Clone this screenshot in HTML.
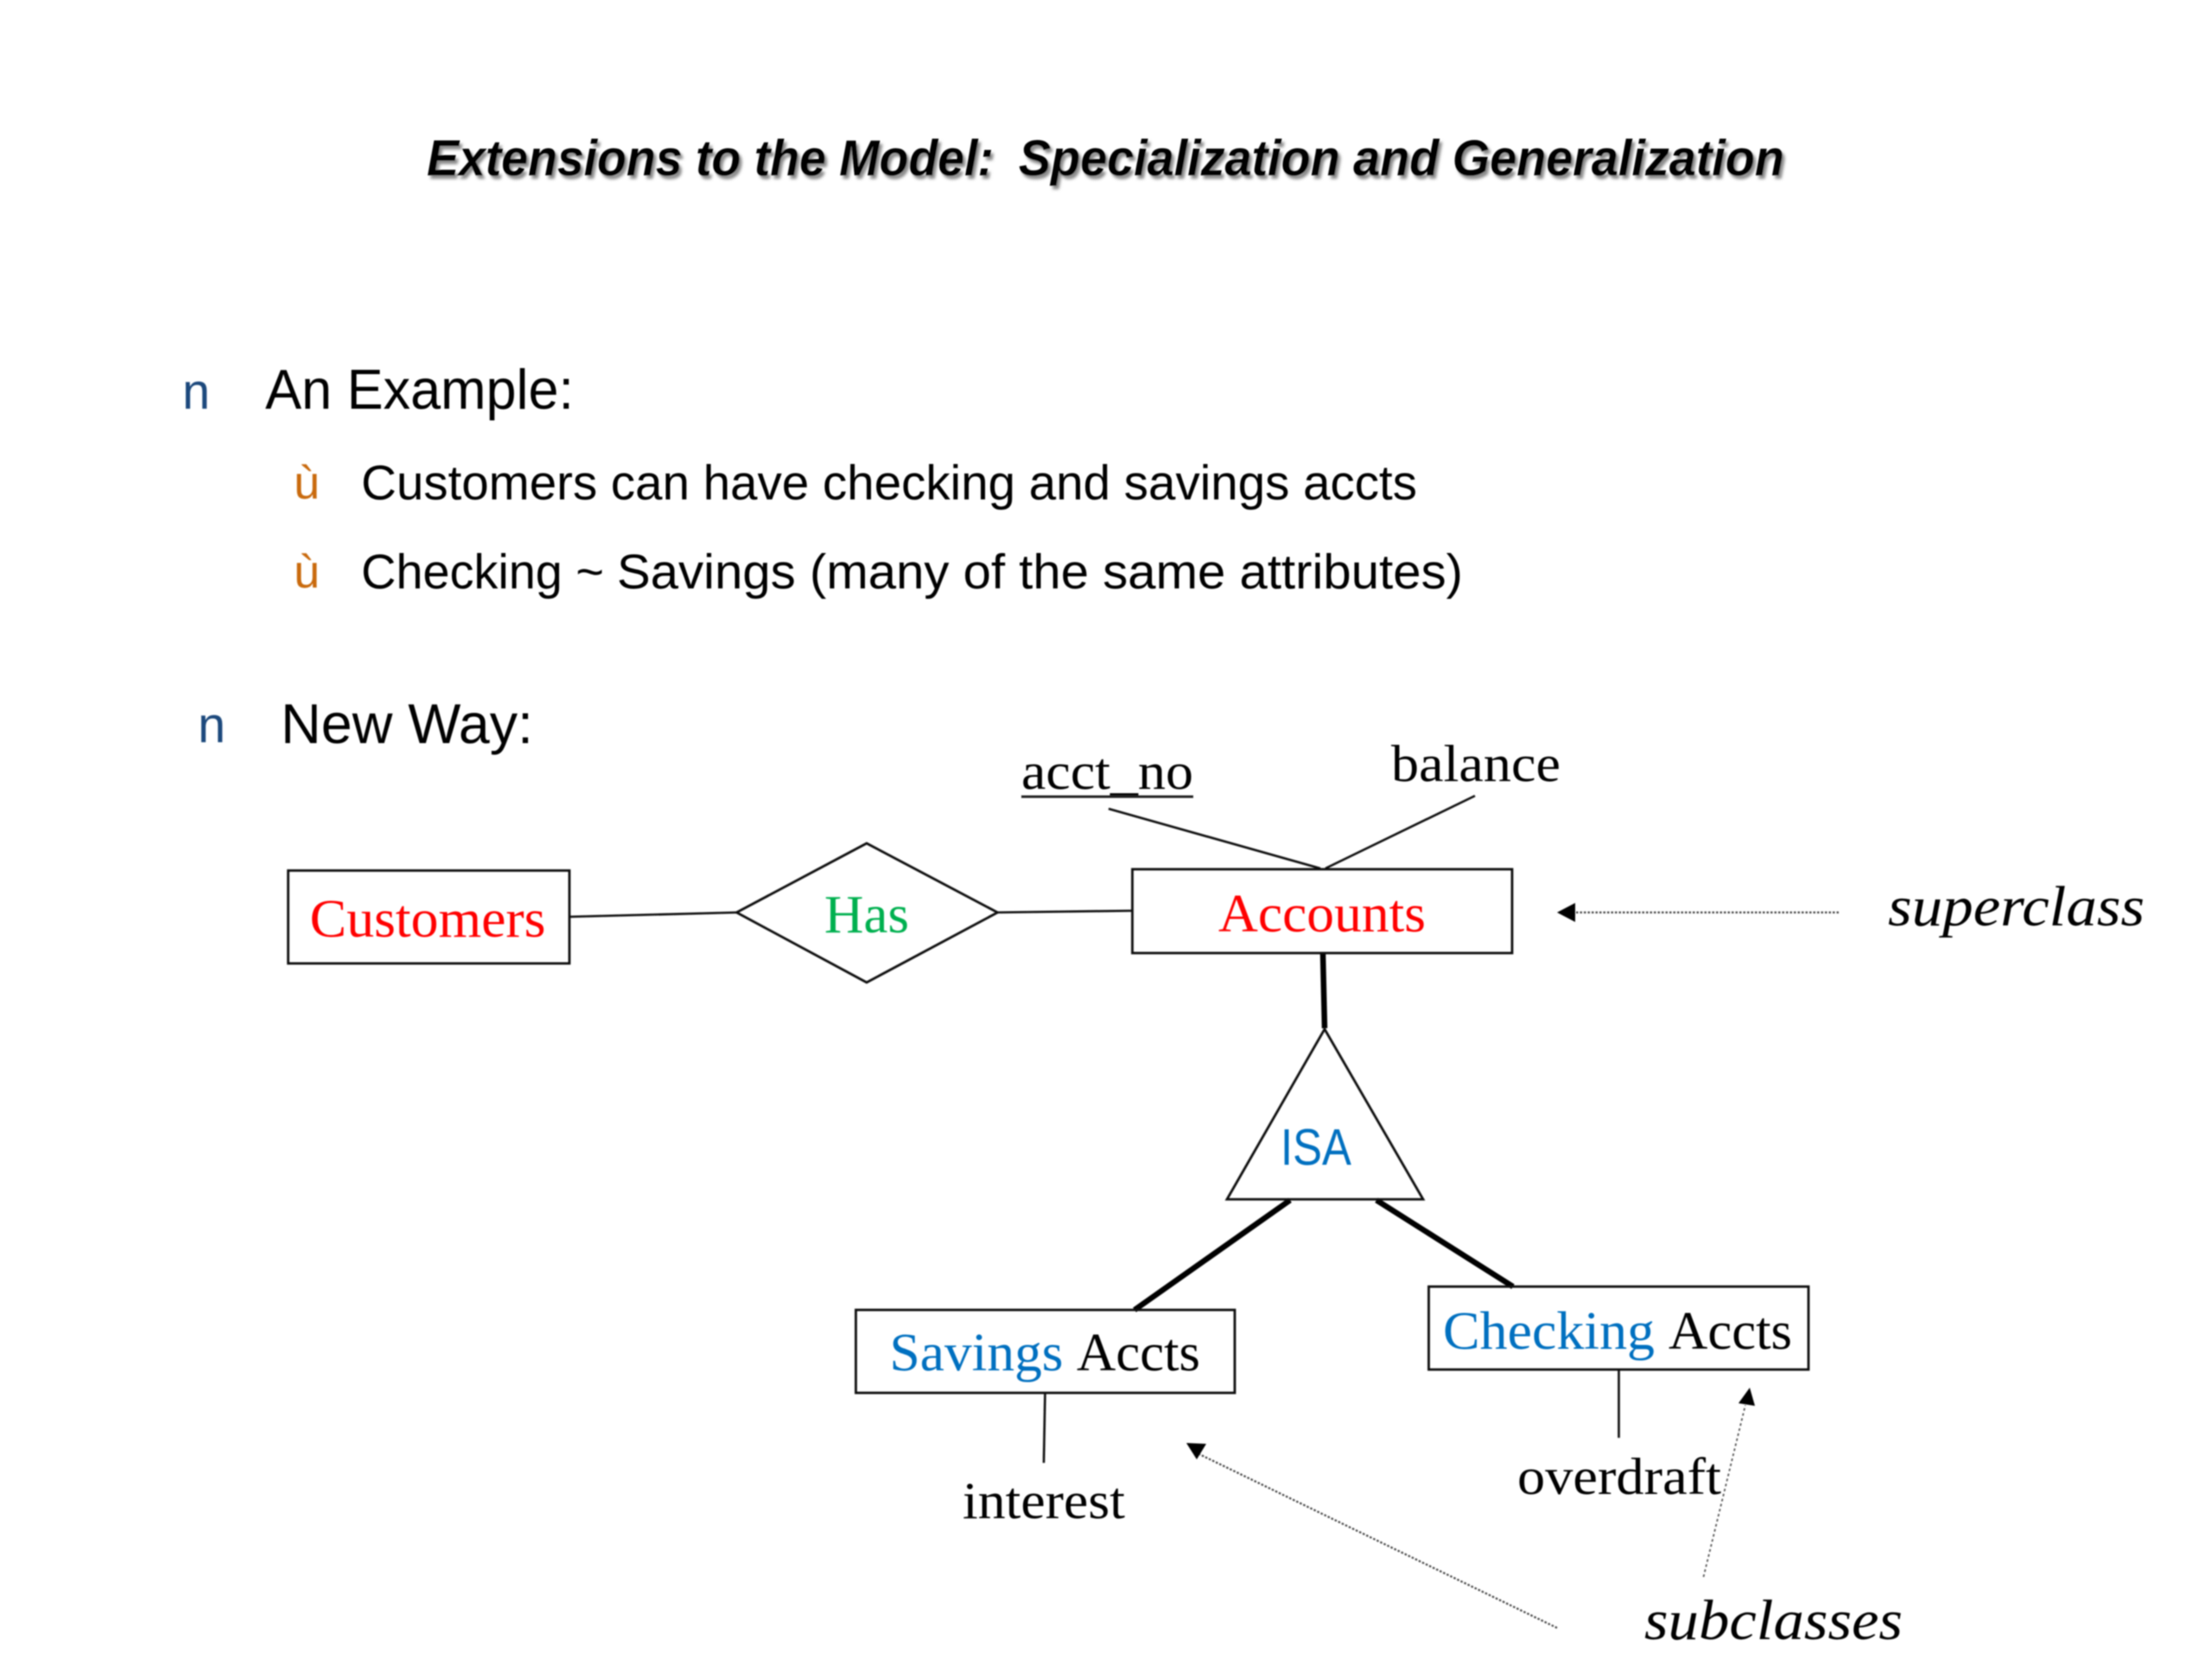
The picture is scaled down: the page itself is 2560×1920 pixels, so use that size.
<!DOCTYPE html>
<html>
<head>
<meta charset="utf-8">
<style>
html,body{margin:0;padding:0;background:#fff;width:2560px;height:1920px;overflow:hidden}
svg{display:block}
.s{font-family:"Liberation Sans",sans-serif}
.r{font-family:"Liberation Serif",serif}
</style>
</head>
<body>
<svg width="2560" height="1920" viewBox="0 0 2560 1920" xmlns="http://www.w3.org/2000/svg">
<defs>
<filter id="soft" x="-5%" y="-5%" width="110%" height="110%"><feGaussianBlur stdDeviation="0.7"/></filter>
<filter id="sh" x="-5%" y="-20%" width="110%" height="140%"><feGaussianBlur stdDeviation="1.6"/></filter>
</defs>
<rect width="2560" height="1920" fill="#fff"/>
<g filter="url(#soft)">
<!-- Title -->
<g fill="#8a8a8a" filter="url(#sh)">
<text class="s" x="497" y="207" font-size="58" font-weight="bold" font-style="italic" textLength="656" lengthAdjust="spacingAndGlyphs">Extensions to the Model:</text>
<text class="s" x="1182" y="207" font-size="58" font-weight="bold" font-style="italic" textLength="886" lengthAdjust="spacingAndGlyphs">Specialization and Generalization</text>
</g>
<text class="s" x="494" y="203" font-size="58" font-weight="bold" font-style="italic" fill="#000" textLength="656" lengthAdjust="spacingAndGlyphs">Extensions to the Model:</text>
<text class="s" x="1179" y="203" font-size="58" font-weight="bold" font-style="italic" fill="#000" textLength="886" lengthAdjust="spacingAndGlyphs">Specialization and Generalization</text>

<!-- Bullets -->
<text class="s" x="211" y="473" font-size="58" fill="#1F497D" textLength="32" lengthAdjust="spacingAndGlyphs">n</text>
<text class="s" x="307" y="473" font-size="65" fill="#000" textLength="357" lengthAdjust="spacingAndGlyphs">An Example:</text>
<text class="s" x="340" y="577" font-size="54" fill="#C96A10" textLength="30" lengthAdjust="spacingAndGlyphs">ù</text>
<text class="s" x="418" y="578" font-size="57" fill="#000" textLength="1222" lengthAdjust="spacingAndGlyphs">Customers can have checking and savings accts</text>
<text class="s" x="340" y="680" font-size="54" fill="#C96A10" textLength="30" lengthAdjust="spacingAndGlyphs">ù</text>
<text class="s" x="418" y="681" font-size="57" fill="#000" textLength="281" lengthAdjust="spacingAndGlyphs">Checking ~</text>
<text class="s" x="714" y="681" font-size="57" fill="#000" textLength="979" lengthAdjust="spacingAndGlyphs">Savings (many of the same attributes)</text>
<text class="s" x="229" y="859" font-size="58" fill="#1F497D" textLength="32" lengthAdjust="spacingAndGlyphs">n</text>
<text class="s" x="325" y="860" font-size="65" fill="#000" textLength="292" lengthAdjust="spacingAndGlyphs">New Way:</text>

<!-- Connectors -->
<g stroke="#111" fill="none" stroke-width="2.6">
<line x1="1283" y1="936" x2="1528" y2="1005"/>
<line x1="1707" y1="921" x2="1534" y2="1005"/>
<line x1="659" y1="1061" x2="853" y2="1056"/>
<line x1="1154" y1="1056" x2="1311" y2="1054"/>
<line x1="1209.5" y1="1611" x2="1208" y2="1693"/>
<line x1="1873.5" y1="1585" x2="1873.5" y2="1664"/>
</g>
<g stroke="#000" fill="none" stroke-width="6.5">
<line x1="1531" y1="1103" x2="1533" y2="1190"/>
<line x1="1493" y1="1389" x2="1313" y2="1516"/>
<line x1="1593" y1="1389" x2="1751" y2="1489"/>
</g>

<!-- Shapes -->
<g stroke="#111" fill="#fff" stroke-width="2.8">
<rect x="333.5" y="1007.5" width="325.5" height="107.5" fill="none"/>
<polygon points="852.5,1056 1003,976 1154.5,1056 1003,1137" fill="none"/>
<rect x="1310.5" y="1006" width="439.5" height="97" fill="none"/>
<polygon points="1533,1191 1647,1388 1420,1388" fill="none"/>
<rect x="990.5" y="1516" width="438.5" height="96" fill="none"/>
<rect x="1653.5" y="1489" width="439.5" height="96" fill="none"/>
</g>

<!-- Labels -->
<text class="r" x="358.5" y="1084" font-size="62" fill="#FF0000" textLength="273" lengthAdjust="spacingAndGlyphs">Customers</text>
<text class="r" x="954" y="1079" font-size="62" fill="#00B050" textLength="98" lengthAdjust="spacingAndGlyphs">Has</text>
<text class="r" x="1410" y="1078" font-size="62" fill="#FF0000" textLength="240" lengthAdjust="spacingAndGlyphs">Accounts</text>
<text class="s" x="1482" y="1348" font-size="59" fill="#0070C0" textLength="82" lengthAdjust="spacingAndGlyphs">ISA</text>
<text class="r" x="1182" y="913" font-size="60" fill="#000" textLength="199" lengthAdjust="spacingAndGlyphs">acct_no</text>
<rect x="1182" y="920.5" width="199" height="3" fill="#222"/>
<text class="r" x="1610" y="904" font-size="60" fill="#000" textLength="196" lengthAdjust="spacingAndGlyphs">balance</text>
<text class="r" x="1029.5" y="1586" font-size="62" fill="#0070C0" textLength="201" lengthAdjust="spacingAndGlyphs">Savings</text>
<text class="r" x="1246" y="1586" font-size="62" fill="#000" textLength="143" lengthAdjust="spacingAndGlyphs">Accts</text>
<text class="r" x="1670" y="1561" font-size="62" fill="#0070C0" textLength="245" lengthAdjust="spacingAndGlyphs">Checking</text>
<text class="r" x="1931" y="1561" font-size="62" fill="#000" textLength="143" lengthAdjust="spacingAndGlyphs">Accts</text>
<text class="r" x="1114" y="1757" font-size="60" fill="#000" textLength="188" lengthAdjust="spacingAndGlyphs">interest</text>
<text class="r" x="1756" y="1729" font-size="60" fill="#000" textLength="236" lengthAdjust="spacingAndGlyphs">overdraft</text>
<text class="r" x="2185" y="1071" font-size="66" font-style="italic" fill="#000" textLength="297" lengthAdjust="spacingAndGlyphs">superclass</text>
<text class="r" x="1903" y="1897" font-size="66" font-style="italic" fill="#000" textLength="299" lengthAdjust="spacingAndGlyphs">subclasses</text>

<!-- Dotted arrows -->
<line x1="2128" y1="1056" x2="1822" y2="1056" stroke="#444" stroke-width="2.2" stroke-dasharray="2.5 2"/>
<polygon points="1802,1056 1823,1045 1823,1067" fill="#000"/>
<line x1="1802" y1="1884" x2="1386" y2="1682" stroke="#444" stroke-width="2.2" stroke-dasharray="2.5 2"/>
<polygon points="1373,1670 1396,1671 1385,1689" fill="#000"/>
<line x1="1971.5" y1="1825" x2="2020" y2="1626" stroke="#555" stroke-width="1.8" stroke-dasharray="3 3"/>
<polygon points="2025,1606 2031,1627 2012,1624" fill="#000"/>
</g>
</svg>
</body>
</html>
